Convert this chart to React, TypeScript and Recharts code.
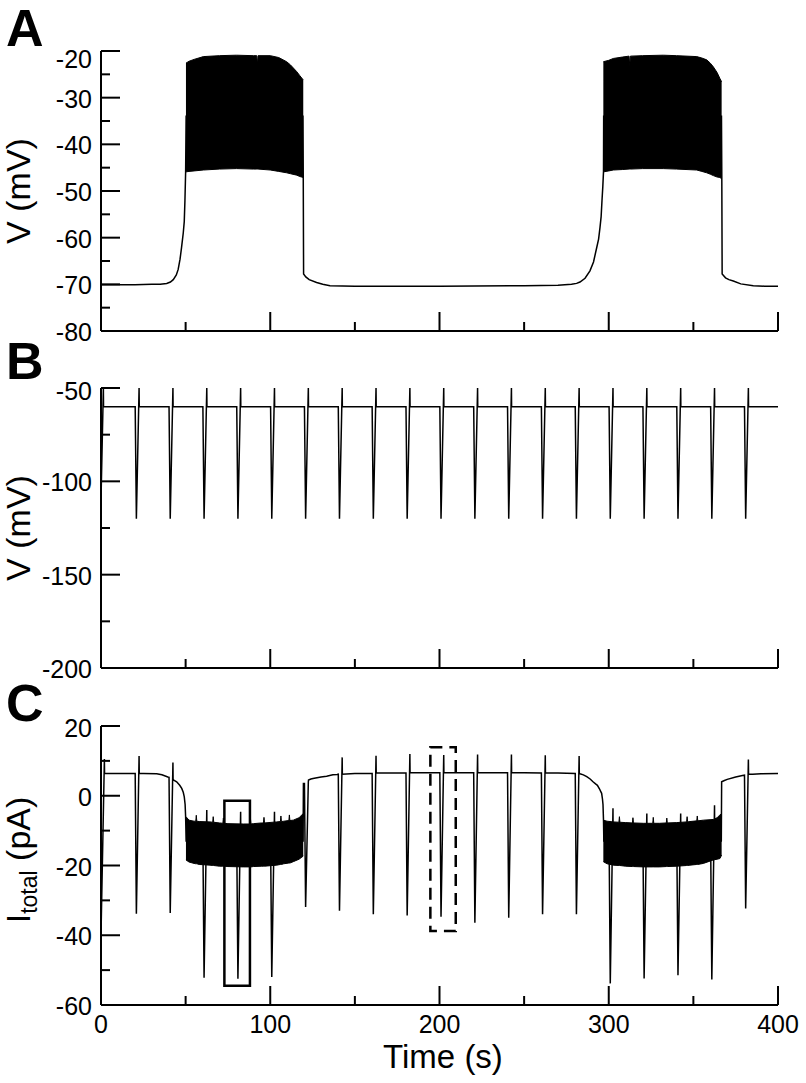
import React from 'react';
import { ComposedChart, Line, Area, XAxis, YAxis, ReferenceArea } from 'recharts';

const FONT = '"Liberation Sans", Arial, Helvetica, sans-serif';

// ---------- shared time axis ----------
const timeTicks = [0, 50, 100, 150, 200, 250, 300, 350, 400];
const timeMajor = [0, 100, 200, 300, 400];

// ---------- Panel A : membrane potential (mV) ----------
const aTicks = [-80, -75, -70, -65, -60, -55, -50, -45, -40, -35, -30, -25, -20];
const aMajor = [-80, -70, -60, -50, -40, -30, -20];
// slow trace [t (s), V (mV)] ; points inside bursts are hidden by the burst band
const aTrace: [number, number][] = [
  [0, -70.1], [10, -70.1], [20, -70.1], [30, -70.0], [35, -70.0], [38.8, -69.8], [41, -69.5],
  [42.7, -69.0], [44.5, -68.0], [45.6, -66.8], [46.7, -64.6], [47.6, -62.1], [48.6, -59.0],
  [49.2, -56.5], [49.6, -52.0], [50.0, -46.0], [50.3, -34], [119.3, -34], [119.5, -47.1],
  [119.7, -67.8], [121, -68.4], [123, -69.0], [127.4, -69.6], [131, -70.0], [135.3, -70.3],
  [150, -70.4], [200, -70.4], [250, -70.3], [270, -70.2], [278, -70.0], [281, -69.8],
  [283, -69.5], [286, -68.7], [288.9, -67.1], [291, -65.2], [292.9, -62.1], [294, -60.3],
  [294.8, -57.9], [295.5, -55.5], [296.0, -52.1], [296.5, -49.0], [296.9, -45.9], [297.0, -34],
  [366.6, -34], [366.8, -47.4], [367.0, -67.8], [369, -68.6], [371, -69.0], [373.6, -69.3],
  [378, -69.9], [385.4, -70.3], [392, -70.4], [400, -70.4],
];
// burst envelopes [t, low, high]
const aBurst1: [number, number, number][] = [
  [50.2, -45.9, -22.6], [52, -45.8, -22.2], [55, -45.7, -21.8], [60.5, -45.5, -21.2],
  [70, -45.3, -21.0], [80, -45.2, -20.9], [90, -45.3, -21.0], [92.0, -45.3, -21.0],
  [92.4, -45.3, -22.8], [92.8, -45.3, -21.0], [100, -45.5, -21.0], [105, -45.8, -21.4],
  [109.7, -46.1, -22.3], [112, -46.3, -23.0], [115.6, -46.6, -24.4], [117.5, -46.9, -25.3],
  [119.5, -47.1, -26.2],
];
const aBurst2: [number, number, number][] = [
  [296.8, -45.9, -22.3], [300, -45.7, -22.0], [302.7, -45.5, -21.6], [308, -45.4, -21.3],
  [312.0, -45.3, -21.1], [312.4, -45.3, -23.2], [312.8, -45.3, -21.1], [320, -45.2, -21.0],
  [332.2, -45.2, -20.9], [340, -45.3, -21.0], [352, -45.5, -21.2], [355, -45.8, -21.5],
  [357.9, -46.1, -21.9], [360, -46.4, -22.6], [361.8, -46.7, -23.4], [364, -47.0, -24.6],
  [365.7, -47.1, -25.9], [366.7, -47.4, -26.6],
];

// ---------- Panel B : potential (mV) ----------
const bTicks = [-200, -175, -150, -125, -100, -75, -50];
const bMajor = [-200, -150, -100, -50];
const bBase: [number, number][] = [[0, -110], [1.4, -50], [1.5, -60], [400, -60]];
const bSpikeT = [20, 40, 60, 80, 100, 120, 140, 160, 180, 200, 220, 240, 260, 280, 300, 320, 340, 360, 380];
const bSpikeLow = [-120, -120, -120, -120, -120, -120, -120, -120, -120, -120, -120, -120, -120, -120, -120, -120, -120, -120, -120];
const bSpikeHigh = [-50, -50, -50, -50, -50, -50, -50, -50, -50, -50, -50, -50, -50, -50, -50, -50, -50, -50, -50];
const bRest = -60;

// ---------- Panel C : total current (pA) ----------
const cTicks = [-60, -50, -40, -30, -20, -10, 0, 10, 20];
const cMajor = [-60, -40, -20, 0, 20];
const cBase: [number, number][] = [
  [0, -40], [2.0, 10.5], [2.1, 6.4], [10, 6.4], [19.5, 6.4], [25, 6.4], [32.9, 6.3], [36, 6.0],
  [39.5, 5.4], [43, 4.5], [44.7, 4.0], [46.5, 3.0], [47.7, 2.1], [48.6, 1.0], [49.2, -0.3],
  [49.7, -2.5], [50.0, -6.0], [50.3, -13], [119.4, -13], [119.6, 3.5],
  [124, 4.8], [126, 5.0], [130, 5.4], [133.3, 5.6], [137, 6.0], [139.5, 6.1], [150, 6.4],
  [170, 6.5], [190, 6.6], [210, 6.6], [230, 6.6], [250, 6.6], [270, 6.5], [283, 6.3],
  [285, 6.0], [287, 5.5], [289, 4.8], [290.7, 4.0], [292.2, 3.4], [293.3, 3.0], [294.5, 2.0],
  [295.3, 1.2], [295.8, 0.7], [296.3, -1.0], [296.6, -2.5], [296.9, -7.0], [297.1, -13],
  [366.5, -13], [366.7, 4.0], [368, 4.3], [370, 4.7], [375, 5.4], [379, 5.8],
  [385, 6.2], [390, 6.3], [400, 6.4],
];
const cSpikeT = bSpikeT;
const cSpikeBase = [6.4, 5.3, -13, -13, -13, 3.5, 6.2, 6.4, 6.5, 6.6, 6.6, 6.6, 6.5, 6.4, -13, -13, -13, -13, 5.9];
const cSpikeLow = [-33.8, -33.6, -52.2, -52.5, -52.0, -31.9, -33.0, -34.0, -34.3, -34.7, -36.4, -35.0, -34.0, -34.0, -53.8, -52.4, -51.5, -52.7, -32.3];
const cSpikeHigh = [11.4, 9.5, -4.1, -4.6, -4.6, 4.0, 11.0, 11.5, 12.0, 11.7, 11.8, 11.8, 11.6, 11.4, -3.6, -5.1, -5.1, -2.7, 10.4];
const cSpikeAfter = [6.4, 4.7, -13, -13, -13, 4.5, 6.2, 6.5, 6.6, 6.6, 6.6, 6.6, 6.5, 6.4, -13, -13, -13, -13, 6.2];
const cBurst1: [number, number, number][] = [
  [50.2, -18.4, -6.0], [52, -19.0, -7.0], [55, -19.4, -7.3], [56.0, -19.5, -7.3], [56.3, -19.5, -5.6],
  [56.6, -19.5, -7.3], [58, -19.7, -7.4], [64.4, -19.9, -7.5], [66.0, -20.0, -7.6], [66.3, -20.0, -6.0],
  [66.6, -20.0, -7.6], [70, -20.2, -7.8], [72.0, -20.2, -7.9], [72.3, -20.2, -6.4], [72.6, -20.2, -7.9],
  [75, -20.3, -8.0], [84.1, -20.4, -8.1], [88.0, -20.4, -8.1], [88.3, -20.4, -6.5], [88.6, -20.4, -8.1],
  [90, -20.3, -8.0], [95, -20.2, -7.8], [96.0, -20.2, -7.8], [96.3, -20.2, -6.2], [96.6, -20.2, -7.8],
  [103.8, -19.9, -7.5], [106.0, -19.7, -7.4], [106.3, -19.7, -5.8], [106.6, -19.7, -7.4],
  [108, -19.5, -7.3], [111.0, -19.3, -7.1], [111.3, -19.3, -5.5], [111.6, -19.3, -7.1],
  [113.6, -18.9, -7.0], [117, -18.2, -6.3], [119.5, -17.3, -5.1],
];
const cBurst2: [number, number, number][] = [
  [296.8, -18.9, -7.0], [299, -19.5, -7.3], [302.7, -19.9, -7.5], [306.0, -20.0, -7.6],
  [306.3, -20.0, -6.0], [306.6, -20.0, -7.6], [310, -20.2, -7.7], [314.0, -20.3, -7.8],
  [314.3, -20.3, -6.3], [314.6, -20.3, -7.8], [320.4, -20.4, -7.9], [326.0, -20.4, -7.9],
  [326.3, -20.4, -6.2], [326.6, -20.4, -7.9], [330, -20.4, -7.9], [334.0, -20.3, -7.8],
  [334.3, -20.3, -6.4], [334.6, -20.3, -7.8], [340.1, -20.2, -7.7], [346.0, -20.0, -7.5],
  [346.3, -20.0, -6.0], [346.6, -20.0, -7.5], [348, -19.9, -7.4], [352.0, -19.7, -7.2],
  [352.3, -19.7, -5.8], [352.6, -19.7, -7.2], [355.9, -19.4, -7.0], [361.8, -18.4, -6.8],
  [364, -18.2, -6.3], [365.7, -18.0, -5.5], [366.7, -17.0, -5.1],
];
// highlighted windows [t1, t2, I1, I2]
const solidBox = [72.9, 88.0, -54.5, -1.4];
const dashedBox = [194.6, 209.6, -38.8, 13.9];

// ---------- helpers ----------
type P = { t: number; v: number };
const toPts = (arr: [number, number][]): P[] => arr.map(([t, v]) => ({ t, v }));
const toBand = (arr: [number, number, number][]) => arr.map(([t, lo, hi]) => ({ t, range: [lo, hi] }));
function withSpikes(base: P[], T: number[], before: number[], low: number[], high: number[], after: number[]): P[] {
  const pts = [...base];
  T.forEach((t, i) => {
    pts.push({ t: t + 0.2, v: before[i] }, { t: t + 0.9, v: low[i] }, { t: t + 2.5, v: high[i] }, { t: t + 2.6, v: after[i] });
  });
  return pts.sort((a, b) => a.t - b.t);
}

const aData = toPts(aTrace);
const bData = withSpikes(toPts(bBase), bSpikeT, bSpikeT.map(() => bRest), bSpikeLow, bSpikeHigh, bSpikeT.map(() => bRest));
const cData = withSpikes(toPts(cBase), cSpikeT, cSpikeBase, cSpikeLow, cSpikeHigh, cSpikeAfter);

const W = 806;
const YW = 101;
const RM = 28;
const TICK_FS = 25;
const TITLE_FS = 34;
const LETTER_FS = 52;

const makeYTick = (major: number[], topShift: number) => (p: any) => {
  const { x, y, payload } = p;
  const isMajor = major.includes(payload.value);
  const isTop = payload.value === major[major.length - 1];
  return (
    <g>
      <line x1={x} y1={y} x2={x + (isMajor ? 19 : 9)} y2={y} stroke="#000" strokeWidth={2} />
      {isMajor && (
        <text x={x - 9} y={y + (isTop ? topShift : 1)} dy="0.36em" textAnchor="end" fontSize={TICK_FS} fontFamily={FONT} fill="#000">
          {payload.value}
        </text>
      )}
    </g>
  );
};

const makeXTick = (labels: boolean) => (p: any) => {
  const { x, y, payload } = p;
  const isMajor = timeMajor.includes(payload.value);
  return (
    <g>
      <line x1={x} y1={y} x2={x} y2={y - (isMajor ? 19 : 9)} stroke="#000" strokeWidth={2} />
      {labels && isMajor && (
        <text x={x} y={y + 28} textAnchor="middle" fontSize={TICK_FS} fontFamily={FONT} fill="#000">
          {payload.value}
        </text>
      )}
    </g>
  );
};

const sideLabel = (letter: string, letterY: number, titleY: number, title: React.ReactNode) => () => (
  <g>
    <text x={6} y={letterY} fontSize={LETTER_FS} fontWeight="bold" fontFamily={FONT} fill="#000">{letter}</text>
    <text transform={`translate(30, ${titleY}) rotate(-90)`} textAnchor="middle" fontSize={TITLE_FS} fontFamily={FONT} fill="#000">
      {title}
    </text>
  </g>
);

const axisLine = { stroke: '#000', strokeWidth: 2 };

// chart frames: [top of svg on page, svg height, plot top inside svg, x-axis band height]
export default function App() {
  return (
    <div style={{ position: 'absolute', left: 0, top: 0, width: W, height: 1083, background: '#fff' }}>
      {/* Panel A */}
      <div style={{ position: 'absolute', left: 0, top: 0 }}>
        <ComposedChart width={W} height={360} margin={{ top: 51, right: RM, bottom: 0, left: 0 }}>
          <XAxis type="number" dataKey="t" domain={[0, 400]} ticks={timeTicks} interval={0} allowDataOverflow
            tickLine={false} tickSize={0} tickMargin={0} axisLine={axisLine} tick={makeXTick(false)} height={29} />
          <YAxis type="number" domain={[-80, -20]} ticks={aTicks} interval={0} allowDataOverflow width={YW}
            tickLine={false} tickSize={0} tickMargin={0} axisLine={axisLine} tick={makeYTick(aMajor, 8)}
            label={sideLabel('A', 46, 191, 'V (mV)')} />
          <Area data={toBand(aBurst1)} dataKey="range" type="linear" stroke="#000" strokeWidth={1} fill="#000" fillOpacity={1} isAnimationActive={false} dot={false} activeDot={false} />
          <Area data={toBand(aBurst2)} dataKey="range" type="linear" stroke="#000" strokeWidth={1} fill="#000" fillOpacity={1} isAnimationActive={false} dot={false} activeDot={false} />
          <Line data={aData} dataKey="v" type="linear" stroke="#000" strokeWidth={1.5} dot={false} activeDot={false} isAnimationActive={false} />
        </ComposedChart>
      </div>
      {/* Panel B */}
      <div style={{ position: 'absolute', left: 0, top: 320 }}>
        <ComposedChart width={W} height={380} margin={{ top: 68, right: RM, bottom: 0, left: 0 }}>
          <XAxis type="number" dataKey="t" domain={[0, 400]} ticks={timeTicks} interval={0} allowDataOverflow
            tickLine={false} tickSize={0} tickMargin={0} axisLine={axisLine} tick={makeXTick(false)} height={32} />
          <YAxis type="number" domain={[-200, -50]} ticks={bTicks} interval={0} allowDataOverflow width={YW}
            tickLine={false} tickSize={0} tickMargin={0} axisLine={axisLine} tick={makeYTick(bMajor, 3)}
            label={sideLabel('B', 59, 208, 'V (mV)')} />
          <Line data={bData} dataKey="v" type="linear" stroke="#000" strokeWidth={1.5} dot={false} activeDot={false} isAnimationActive={false} />
        </ComposedChart>
      </div>
      {/* Panel C */}
      <div style={{ position: 'absolute', left: 0, top: 660 }}>
        <ComposedChart width={W} height={423} margin={{ top: 66, right: RM, bottom: 0, left: 0 }}>
          <XAxis type="number" dataKey="t" domain={[0, 400]} ticks={timeTicks} interval={0} allowDataOverflow
            tickLine={false} tickSize={0} tickMargin={0} axisLine={axisLine} tick={makeXTick(true)} height={78}
            label={() => (
              <text x={443} y={408} textAnchor="middle" fontSize={33} fontFamily={FONT} fill="#000">Time (s)</text>
            )} />
          <YAxis type="number" domain={[-60, 20]} ticks={cTicks} interval={0} allowDataOverflow width={YW}
            tickLine={false} tickSize={0} tickMargin={0} axisLine={axisLine} tick={makeYTick(cMajor, 2)}
            label={sideLabel('C', 61, 200, (
              <>
                I<tspan fontSize={23} dy={7}>total</tspan><tspan dy={-7}> (pA)</tspan>
              </>
            ))} />
          <Area data={toBand(cBurst1)} dataKey="range" type="linear" stroke="#000" strokeWidth={1} fill="#000" fillOpacity={1} isAnimationActive={false} dot={false} activeDot={false} />
          <Area data={toBand(cBurst2)} dataKey="range" type="linear" stroke="#000" strokeWidth={1} fill="#000" fillOpacity={1} isAnimationActive={false} dot={false} activeDot={false} />
          <Line data={cData} dataKey="v" type="linear" stroke="#000" strokeWidth={1.5} dot={false} activeDot={false} isAnimationActive={false} />
          <ReferenceArea x1={solidBox[0]} x2={solidBox[1]} y1={solidBox[2]} y2={solidBox[3]} ifOverflow="visible"
            fill="none" fillOpacity={0} stroke="#000" strokeWidth={2.5} />
          <ReferenceArea x1={dashedBox[0]} x2={dashedBox[1]} y1={dashedBox[2]} y2={dashedBox[3]} ifOverflow="visible"
            fill="none" fillOpacity={0} stroke="#000" strokeWidth={2.5} strokeDasharray="12 7" />
        </ComposedChart>
      </div>
    </div>
  );
}
